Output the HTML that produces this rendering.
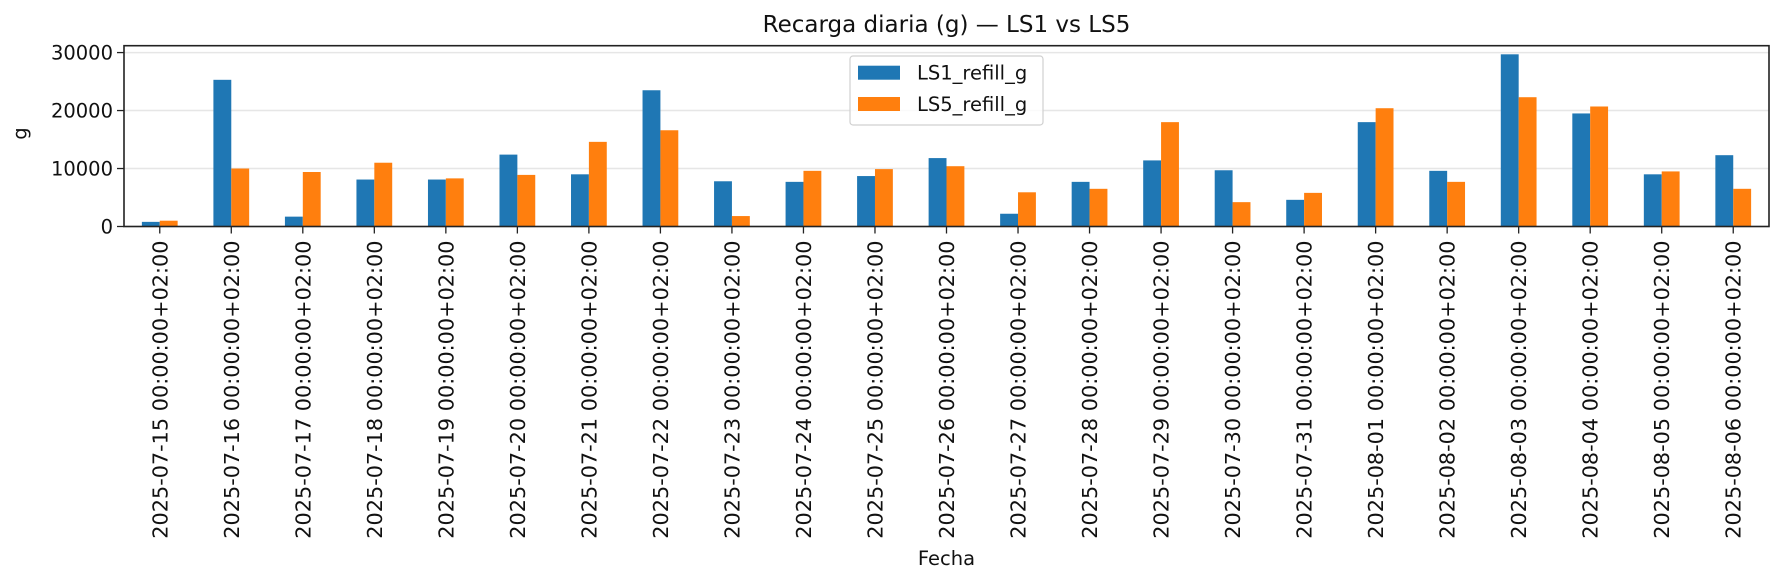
<!DOCTYPE html>
<html><head><meta charset="utf-8"><style>
body{margin:0;background:#fff}
svg{display:block;font-family:"DejaVu Sans","Liberation Sans",sans-serif}
</style></head><body>
<svg id="chart" width="1784" height="584" viewBox="0 0 1784 584"></svg>
<script>
const categories=["2025-07-15","2025-07-16","2025-07-17","2025-07-18","2025-07-19","2025-07-20","2025-07-21","2025-07-22","2025-07-23","2025-07-24","2025-07-25","2025-07-26","2025-07-27","2025-07-28","2025-07-29","2025-07-30","2025-07-31","2025-08-01","2025-08-02","2025-08-03","2025-08-04","2025-08-05","2025-08-06"];
const ls1Values=[800,25300,1700,8100,8100,12400,9000,23500,7800,7700,8700,11800,2200,7700,11400,9700,4600,18000,9600,29700,19500,9000,12300];
const ls5Values=[1000,10000,9400,11000,8300,8900,14600,16600,1800,9600,9900,10400,5900,6500,18000,4200,5800,20400,7700,22300,20700,9500,6500];
const yTicks=[0,10000,20000,30000];
const seriesNames=["LS1_refill_g","LS5_refill_g"];
const colors=["#1f77b4","#ff7f0e"];

const NS="http://www.w3.org/2000/svg";
const svg=document.getElementById('chart');
const L=124,R=1769,T=45.7,B=226.5;
const yMax=Math.max(...ls1Values,...ls5Values)*1.05;
const y=v=>B-(v/yMax)*(B-T);
const step=(R-L)/categories.length;
const xc=i=>L+step*(i+0.5);
function mk(tag,attrs,parent){const e=document.createElementNS(NS,tag);for(const k in attrs)e.setAttribute(k,attrs[k]);(parent||svg).appendChild(e);return e;}

yTicks.forEach(t=>{
  const g=mk('line',{x1:L,x2:R,y1:y(t),y2:y(t),stroke:'#e6e6e6','stroke-width':1.5});
  
  
});
const bw=step*0.25;
[ls1Values,ls5Values].forEach((vals,s)=>{
  vals.forEach((v,i)=>{
    const r=mk('rect',{x:xc(i)-bw+s*bw,y:y(v),width:bw,height:B-y(v),fill:colors[s]});
    
    
  });
});
const fr=mk('rect',{x:L,y:T,width:R-L,height:B-T,fill:'none',stroke:'#222','stroke-width':1.6});


yTicks.forEach(t=>{
  mk('line',{x1:L-7,x2:L,y1:y(t),y2:y(t),stroke:'#222','stroke-width':1.3});
  const tx=mk('text',{x:L-11,y:y(t)+7,'text-anchor':'end','font-size':19.5,fill:'#111'});
  tx.textContent=t;
  
  
});
categories.forEach((c,i)=>{
  mk('line',{x1:xc(i),x2:xc(i),y1:B,y2:B+7,stroke:'#222','stroke-width':1.3});
  const tx=mk('text',{x:0,y:0,'text-anchor':'end','font-size':20.8,fill:'#111',transform:`translate(${xc(i)+7.5},${B+14}) rotate(-90)`});
  tx.textContent=c+' 00:00:00+02:00';
  
  
});
const lg=mk('g',{});


mk('rect',{x:850,y:56,width:193,height:69,rx:3,fill:'rgba(255,255,255,0.8)',stroke:'#d0d0d0','stroke-width':1.2},lg);
seriesNames.forEach((n,s)=>{
  const yy=72.7+s*31.3;
  const h=mk('rect',{x:858,y:yy-7,width:42,height:14,fill:colors[s]},lg);
  
  
  const t=mk('text',{x:917,y:yy+7,'font-size':19.5,fill:'#111'},lg);
  t.textContent=n;
  
  
});
</script>
<div style="position:absolute;left:0;top:12px;width:1893px;text-align:center;font:23px 'DejaVu Sans',sans-serif;color:#111">Recarga diaria (g) — LS1 vs LS5</div>
<div style="position:absolute;left:14px;top:122px;font:19.5px 'DejaVu Sans',sans-serif;color:#111;transform:rotate(-90deg)">g</div>
<div style="position:absolute;left:0;top:547px;width:1893px;text-align:center;font:19.5px 'DejaVu Sans',sans-serif;color:#111">Fecha</div>
</body></html>
